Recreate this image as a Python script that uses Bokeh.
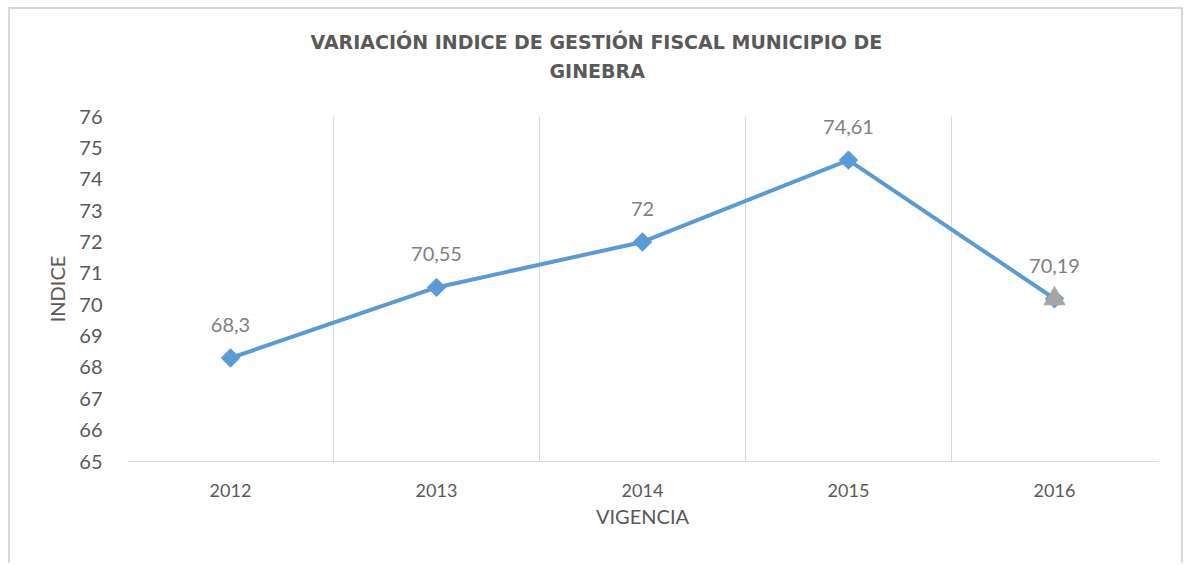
from bokeh.plotting import figure
from bokeh.models import FixedTicker, Range1d, ColumnDataSource, Title, LinearAxis
from bokeh.embed import file_html
from bokeh.resources import INLINE
from bokeh.core.properties import value

# ---- data ----
years = ["2012", "2013", "2014", "2015", "2016"]
indice = [68.3, 70.55, 72, 74.61, 70.19]
value_labels = ["68,3", "70,55", "72", "74,61", "70,19"]
y_ticks = list(range(65, 77))
title_lines = ["VARIACIÓN INDICE DE GESTIÓN FISCAL MUNICIPIO DE", "GINEBRA"]
x_title = "VIGENCIA"
y_title = "INDICE"

# category centres on a numeric axis (boundaries at integers)
xpos = [i + 0.5 for i in range(len(years))]
boundaries = list(range(len(years) + 1))

src = ColumnDataSource(dict(x=xpos, y=indice, lab=value_labels))

GRAY_TXT = "#595959"
GRID = "#d9d9d9"
BLUE = "#5B9BD5"
FONT = "Lato"

p = figure(width=1175, height=556, output_backend="svg", toolbar_location=None,
           x_range=Range1d(0, len(years)), y_range=Range1d(y_ticks[0], y_ticks[-1]),
           min_border_left=117, min_border_right=28, min_border_top=107, min_border_bottom=104)
p.styles = {"margin-left": "8px", "margin-top": "7px",
            "border-top": "2px solid #d9d9d9", "border-left": "2px solid #d9d9d9",
            "border-right": "2px solid #d9d9d9"}
p.outline_line_color = None
p.background_fill_color = "white"
p.border_fill_color = "white"

# x axis
xa = p.xaxis[0]
xa.ticker = FixedTicker(ticks=xpos)
xa.major_label_overrides = {x: y for x, y in zip(xpos, years)}
xa.axis_line_color = GRID
xa.axis_line_width = 1
xa.major_tick_line_color = None
xa.minor_tick_line_color = None
xa.major_label_text_font = FONT
xa.major_label_text_font_size = "18px"
xa.major_label_text_color = GRAY_TXT
xa.major_label_standoff = 16
xa.axis_label = x_title
xa.axis_label_text_font = FONT
xa.axis_label_text_font_size = "20px"
xa.axis_label_text_font_style = "normal"
xa.axis_label_text_color = GRAY_TXT
xa.axis_label_standoff = 4

# y axis
ya = p.yaxis[0]
ya.ticker = FixedTicker(ticks=y_ticks)
ya.axis_line_color = None
ya.major_tick_line_color = None
ya.minor_tick_line_color = None
ya.major_label_text_font = FONT
ya.major_label_text_font_size = "20px"
ya.major_label_text_color = GRAY_TXT
ya.major_label_standoff = 19
ya.axis_label = y_title
ya.axis_label_text_font = FONT
ya.axis_label_text_font_size = "20px"
ya.axis_label_text_font_style = "normal"
ya.axis_label_text_color = GRAY_TXT
ya.axis_label_standoff = 7

# grids
p.ygrid.grid_line_color = None
p.xgrid.ticker = FixedTicker(ticks=boundaries)
p.xgrid.grid_line_color = GRID
p.xgrid.grid_line_width = 1

# series
p.line("x", "y", source=src, line_color=BLUE, line_width=4)
p.scatter("x", "y", source=src, marker="square", angle=0.785398, size=13,
          fill_color=BLUE, line_color=BLUE)
# last point highlighted with grey triangle
p.scatter([xpos[-1]], [indice[-1]], marker="triangle", size=21,
          fill_color="#A5A5A5", line_color="#A5A5A5")

p.text("x", "y", text="lab", source=src, y_offset=-33, text_align="center",
       text_baseline="middle", text_font=value(FONT), text_font_size="20px",
       text_color="#7F7F7F")

# blank spacer between plot area and title (white, invisible tick)
spacer = LinearAxis(ticker=FixedTicker(ticks=[2.5]), major_label_overrides={2.5: ""},
                    axis_line_color=None, major_tick_line_color="white",
                    minor_tick_line_color=None, major_tick_in=0, major_tick_out=32,
                    minor_tick_in=0, minor_tick_out=0, major_label_standoff=0,
                    major_label_text_font_size="0px")
p.add_layout(spacer, "above")

# title (two lines, added nearest-to-plot first)
for line, off in [(title_lines[1], 422), (title_lines[0], 183)]:
    p.add_layout(Title(text=line, align="left", offset=off, text_font="DejaVu Sans",
                       text_font_style="bold", text_font_size="19px",
                       text_color=GRAY_TXT, standoff=5), "above")

open("out.html", "w").write(file_html(p, INLINE))
